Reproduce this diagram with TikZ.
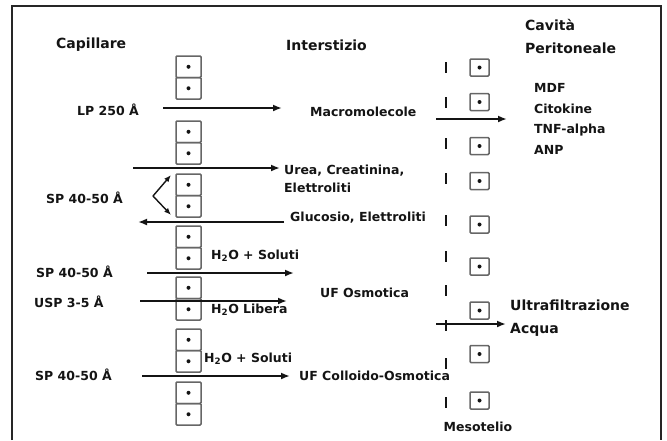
\documentclass[tikz,border=0pt]{standalone}
\usepackage{fontspec}
\setmainfont{DejaVu Sans}
\usepackage{tikz}
\usetikzlibrary{arrows.meta}
\definecolor{cellg}{gray}{0.40}
\definecolor{inkg}{gray}{0.08}

\begin{document}
\begin{tikzpicture}[
  x=1pt, y=-1pt,
  font=\bfseries\fontsize{12.5}{18}\selectfont,
  txt/.style={inner sep=0pt, text=inkg, align=left},
  head/.style={txt, font=\bfseries\fontsize{14}{23}\selectfont},
  cellbox/.style={rectangle, rounded corners=1pt, draw=cellg, line width=1.5pt, inner sep=0pt,
    path picture={\fill[inkg] (path picture bounding box.center) circle (2pt);}},
  capcell/.style={cellbox, minimum width=25pt, minimum height=21.5pt},
  mesocell/.style={cellbox, minimum width=19pt, minimum height=17pt},
  membrane/.style={draw=inkg, line width=2.3pt},
  arrow/.style={-{Latex[length=9pt,width=7pt]}, line width=2.4pt, draw=inkg},
  thinarrow/.style={-{Latex[length=7pt,width=5.5pt]}, line width=1.4pt, draw=inkg}
]
\useasboundingbox (0,0) rectangle (667,440);
\draw[line width=1.8pt, draw=black!85] (12,440) -- (12,6) -- (661,6) -- (661,440);

% column headings
\node[head, anchor=west] (capillare) at (56,45) {Capillare};
\node[head, anchor=west] (interstizio) at (286,45) {Interstizio};
\node[head, anchor=west] (cavita) at (525,36.5) {Cavità\\Peritoneale};

% capillary wall
\foreach \t [count=\i] in {56,121,174,226,277,329,382} {
  \node[capcell] (cap\i a) at (188.5,\t+10.75) {};
  \node[capcell] (cap\i b) at (188.5,\t+32.25) {};
}

% mesothelium
\foreach \d in {62,97,138,173,215,251,285,320,358,397}
  \draw[membrane] (446,\d) -- ++(0,11);
\foreach \c [count=\i] in {67.5,102,146,181,224.5,266.5,310.5,354,400.5}
  \node[mesocell] (meso\i) at (479.5,\c) {};
\node[txt] (mesotelio) at (478,427) {Mesotelio};

% pores
\node[txt, anchor=west] (lp) at (77,110) {LP 250 Å};
\node[txt, anchor=west] (sp1) at (46,198) {SP 40-50 Å};
\node[txt, anchor=west] (sp2) at (36,272) {SP 40-50 Å};
\node[txt, anchor=west] (usp) at (34,302) {USP 3-5 Å};
\node[txt, anchor=west] (sp3) at (35,375) {SP 40-50 Å};

% transported species
\node[txt, anchor=west] (macro) at (310,112) {Macromolecole};
\node[txt, anchor=west] (urea) at (284,179) {Urea, Creatinina,\\Elettroliti};
\node[txt, anchor=west] (gluc) at (290,218) {Glucosio, Elettroliti};
\node[txt, anchor=west] (soluti1) at (211,256) {H\textsubscript{2}O + Soluti};
\node[txt, anchor=west] (libera) at (211,310) {H\textsubscript{2}O Libera};
\node[txt, anchor=west] (soluti2) at (204,359) {H\textsubscript{2}O + Soluti};
\node[txt, anchor=west] (ufosm) at (320,293) {UF Osmotica};
\node[txt, anchor=west] (ufcoll) at (299,376) {UF Colloido-Osmotica};
\node[txt, anchor=west, font=\bfseries\fontsize{12.5}{20.5}\selectfont] (cyto) at (534,119) {MDF\\Citokine\\TNF-alpha\\ANP};
\node[head, anchor=west] (ultra) at (510,318.5) {Ultrafiltrazione\\Acqua};

% arrow ends
\coordinate (lpS) at (163,108);   \coordinate (lpE) at (282,108);
\coordinate (ureaS) at (133,168); \coordinate (ureaE) at (280,168);
\coordinate (glucS) at (284,222); \coordinate (glucE) at (138,222);
\coordinate (spK) at (153,196);   \coordinate (spU) at (171,175); \coordinate (spD) at (171,215);
\coordinate (sp2S) at (147,273);  \coordinate (sp2E) at (294,273);
\coordinate (uspS) at (140,301);  \coordinate (uspE) at (287,301);
\coordinate (sp3S) at (142,376);  \coordinate (sp3E) at (290,376);
\coordinate (peritS) at (436,119); \coordinate (peritE) at (507,119);
\coordinate (ufS) at (436,324);   \coordinate (ufE) at (506,324);

\draw[arrow] (lpS) -- (lpE);
\draw[arrow] (ureaS) -- (ureaE);
\draw[arrow] (glucS) -- (glucE);
\draw[thinarrow] (spK) -- (spU);
\draw[thinarrow] (spK) -- (spD);
\draw[arrow] (sp2S) -- (sp2E);
\draw[arrow] (uspS) -- (uspE);
\draw[arrow] (sp3S) -- (sp3E);
\draw[arrow] (peritS) -- (peritE);
\draw[arrow] (ufS) -- (ufE);

\end{tikzpicture}
\end{document}
